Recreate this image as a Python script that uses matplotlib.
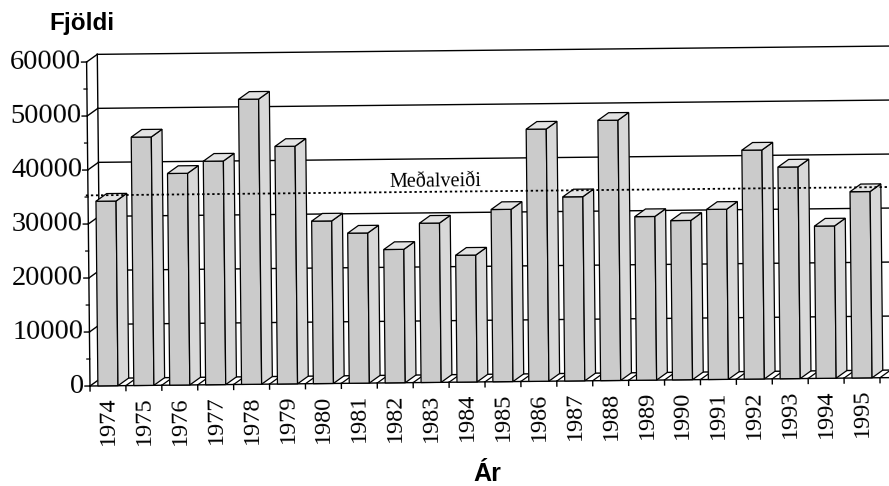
import numpy as np
import matplotlib.pyplot as plt
from matplotlib.patches import Polygon
from matplotlib.transforms import Affine2D

# --- data ---
years = [1974, 1975, 1976, 1977, 1978, 1979, 1980, 1981, 1982, 1983, 1984,
         1985, 1986, 1987, 1988, 1989, 1990, 1991, 1992, 1993, 1994, 1995]
fjoldi = [34200, 46000, 39200, 41400, 52800, 44000, 30100, 27800, 24700, 29500, 23500,
          31900, 46700, 34100, 48200, 30300, 29500, 31500, 42400, 39200, 28200, 34500]
medalveidi = 35300
y_ticks = [0, 10000, 20000, 30000, 40000, 50000, 60000]

# --- look of the fake 3D chart ---
DX, DY = 0.3, 1400        # depth offset (x in categories, y in values)
BAR_W = 0.56
X0, X1 = -0.5, 22.2
ANGLE = 0.6               # the scanned page sits slightly tilted
FRONT = '#cbcbcb'
SIDE = '#d8d8d8'
TOP = '#e3e3e3'
SERIF = 'Liberation Serif'
SANS = 'Liberation Sans'

fig = plt.figure(figsize=(8.89, 4.86), dpi=100)
ax = fig.add_axes([90 / 889, 100 / 486, 799 / 889, 324 / 486])
ax.set_xlim(X0, 21.75)
ax.set_ylim(0, 60000)
ax.set_axis_off()

ox, oy = ax.transAxes.transform((0, 0))
tr = ax.transData + Affine2D().rotate_deg_around(ox, oy, ANGLE)


def line(xs, ys, **kw):
    kw.setdefault('color', 'k')
    kw.setdefault('lw', 1.0)
    ax.plot(xs, ys, transform=tr, clip_on=False, **kw)


x = np.arange(len(years))

# back wall, side wall and floor
for v in y_ticks:
    line([X0 + DX, X1], [v + DY, v + DY], zorder=1)
    line([X0, X0 + DX], [v, v + DY], zorder=1)
line([X0 + DX, X0 + DX], [DY, y_ticks[-1] + DY], zorder=1)
for b in x + 0.5:
    line([b, b + DX], [0, DY], lw=0.9, zorder=1)

# bars: front face, side and top
bars = ax.bar(x, fjoldi, width=BAR_W, color=FRONT, edgecolor='k', lw=0.9, zorder=3)
for p in bars:
    p.set_transform(tr)
    p.set_clip_on(False)
for xi, v in zip(x, fjoldi):
    r = xi + BAR_W / 2
    l = xi - BAR_W / 2
    side = Polygon([(r, 0), (r + DX, DY), (r + DX, v + DY), (r, v)],
                   facecolor=SIDE, edgecolor='k', lw=0.9, zorder=3, transform=tr, clip_on=False)
    top = Polygon([(l, v), (l + DX, v + DY), (r + DX, v + DY), (r, v)],
                  facecolor=TOP, edgecolor='k', lw=0.9, zorder=3, transform=tr, clip_on=False)
    ax.add_patch(side)
    ax.add_patch(top)

# average line
line([X0 - 0.06, X1], [medalveidi, medalveidi], lw=1.3, ls=(0, (1.3, 1.5)), zorder=4)
ax.text(7.9, medalveidi + 80, 'Meðalveiði', family=SERIF, fontsize=14.5,
        ha='left', va='bottom', rotation=ANGLE, transform=tr, zorder=5)

# value axis
line([X0, X0], [0, 60000], zorder=2)
for v in y_ticks:
    line([X0 - 0.14, X0], [v, v], zorder=2)
    ax.text(X0 - 0.15, v, str(v), family=SERIF, fontsize=20.5, ha='right', va='center',
            rotation=ANGLE, transform=tr)
for v in np.arange(5000, 60000, 10000):
    line([X0 - 0.08, X0], [v, v], lw=0.9, zorder=2)

# category axis
line([X0, X1], [0, 0], zorder=2)
for b in np.arange(-0.5, 22, 1):
    line([b, b], [0, -920], zorder=2)
for xi, yr in zip(x, years):
    ax.text(xi, -2000, str(yr), family=SERIF, fontsize=17.5, ha='center', va='top',
            rotation=90 + ANGLE, transform=tr)

fig.text(49 / 889, 1 - 30 / 486, 'Fjöldi', family=SANS, fontweight='bold',
         fontsize=17.5, va='baseline', ha='left')
fig.text(487 / 889, 1 - 481 / 486, 'Ár', family=SANS, fontweight='bold',
         fontsize=18, va='baseline', ha='center')

fig.savefig('out.png', dpi=100)
